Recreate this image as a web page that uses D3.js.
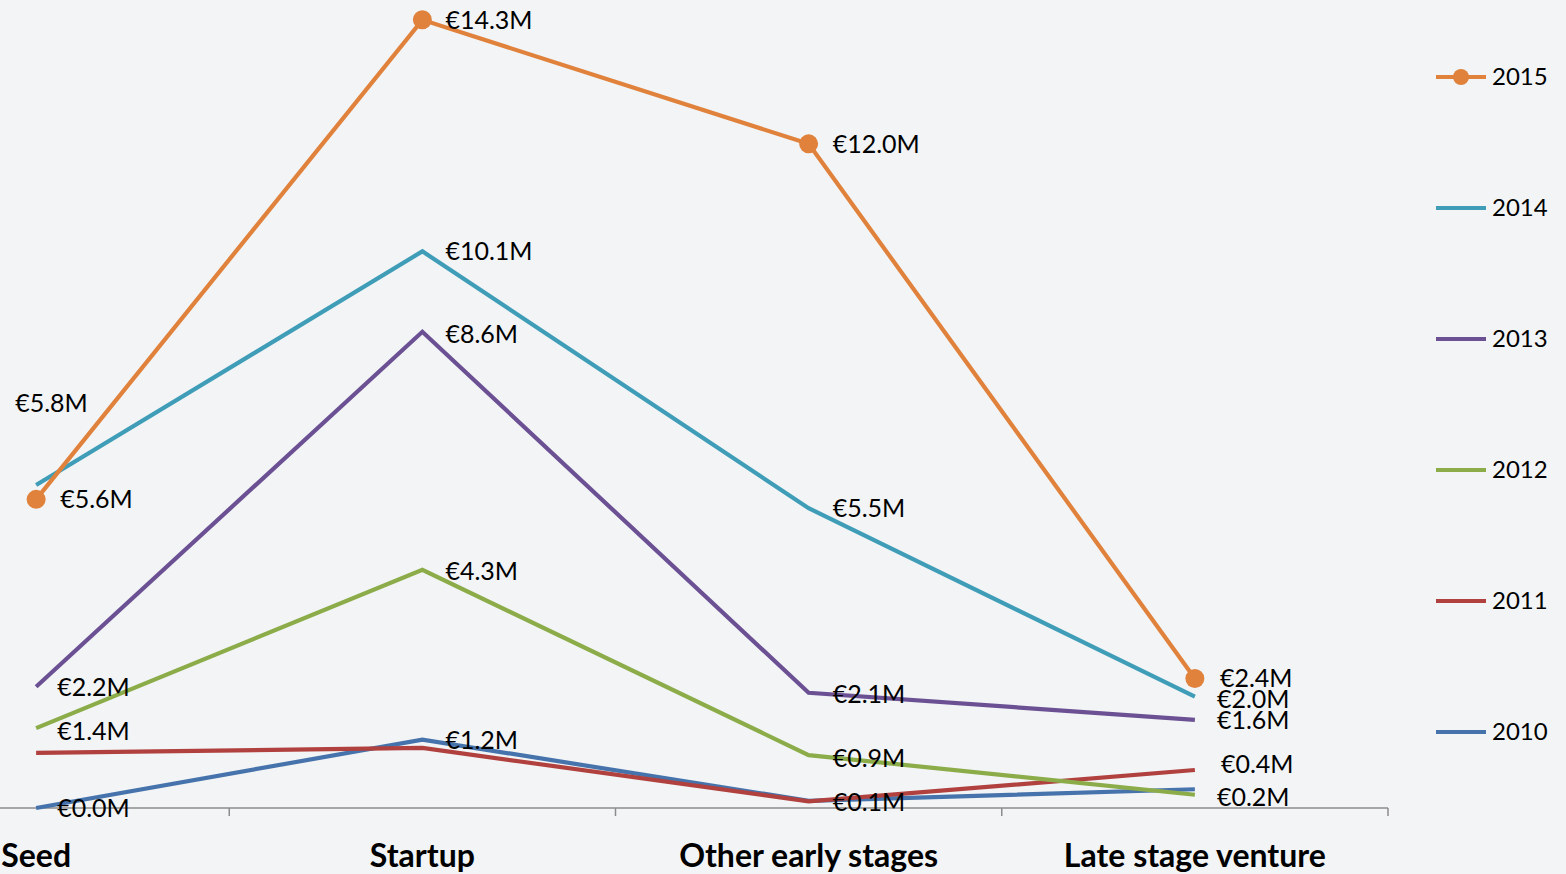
<!DOCTYPE html>
<html><head><meta charset="utf-8">
<script src="https://cdn.jsdelivr.net/npm/d3@7"></script>
<style>
html,body{margin:0;padding:0;background:#f2f4f6;}
svg{display:block;}
text{font-family:Lato,"Open Sans",sans-serif;fill:#000;}
</style></head>
<body>
<svg id="chart" width="1566" height="874"></svg>
<script>
const categories = ["Seed","Startup","Other early stages","Late stage venture"];
const years = ["2015","2014","2013","2012","2011","2010"];
const colors = ["#e0823c","#3f9db8","#6b5193","#8bac48","#b0413e","#4673ab"];
const v2015 = [5.6, 14.3, 12.05, 2.35];
const v2014 = [5.86, 10.1, 5.44, 2.02];
const v2013 = [2.2, 8.64, 2.09, 1.6];
const v2012 = [1.45, 4.32, 0.96, 0.24];
const v2011 = [1.0, 1.09, 0.12, 0.69];
const v2010 = [0.0, 1.24, 0.13, 0.34];
const l2015 = ["€5.6M","€14.3M","€12.0M","€2.4M"];
const l2014 = ["€5.8M","€10.1M","€5.5M","€2.0M"];
const l2013 = ["€2.2M","€8.6M","€2.1M","€1.6M"];
const l2012 = ["€1.4M","€4.3M","€0.9M","€0.2M"];
const l2011 = [null,null,null,"€0.4M"];
const l2010 = ["€0.0M","€1.2M","€0.1M",null];
const values = [v2015,v2014,v2013,v2012,v2011,v2010];
const labels = [l2015,l2014,l2013,l2012,l2011,l2010];
const markers = [true,false,false,false,false,false];
// label offsets (dx, dy) relative to each point
const labelOffsets = [
  [[24,0],[23,0],[24,0],[25,0]],
  [[-21,-82],[23,0],[24,0],[22,3]],
  [[21,1],[23,2],[24,1],[22,0]],
  [[21,3],[23,1],[24,3],[22,2]],
  [[0,0],[0,0],[0,0],[26,-6]],
  [[21,0],[23,1],[24,1],[0,0]]
];

const svg = d3.select("#chart");
const x = d3.scaleBand().domain(categories).range([-157, 1388]);
const y = d3.scaleLinear().domain([0, 14.66]).range([808, 0]);
const cx = c => x(c) + x.bandwidth()/2;

// axis
const axis = svg.append("g").attr("transform","translate(0,808)")
  .call(d3.axisBottom(x).tickSize(0).tickFormat(""));
axis.select(".domain").remove();
axis.append("line").attr("x1",0).attr("x2",1388).attr("stroke","#8c8c8c").attr("stroke-width",1.5);
const bounds = categories.map(c => x(c) + x.bandwidth());
axis.selectAll(".tk").data(bounds).enter().append("line")
  .attr("x1",d=>d).attr("x2",d=>d).attr("y1",0).attr("y2",8)
  .attr("stroke","#8c8c8c").attr("stroke-width",1.5);
svg.selectAll(".cat").data(categories).enter().append("text")
  .attr("x",d=>cx(d)).attr("y",867).attr("text-anchor","middle")
  .style("font-size","32px").style("font-weight","bold").text(d=>d);

const line = d3.line().x((d,i)=>cx(categories[i])).y(d=>y(d));
for (let s = years.length-1; s >= 0; s--) {
  const g = svg.append("g");
  g.append("path").datum(values[s]).attr("d",line).attr("fill","none")
    .attr("stroke",colors[s]).attr("stroke-width",4.2).attr("stroke-linejoin","miter");
  if (markers[s]) {
    g.selectAll("circle").data(values[s]).enter().append("circle")
      .attr("cx",(d,i)=>cx(categories[i])).attr("cy",d=>y(d)).attr("r",9.5).attr("fill",colors[s]);
  }
}
for (let s = years.length-1; s >= 0; s--) {
  labels[s].forEach((t,i)=>{
    if (!t) return;
    svg.append("text").attr("x",cx(categories[i])+labelOffsets[s][i][0])
      .attr("y",y(values[s][i])+labelOffsets[s][i][1]).attr("dy","0.35em")
      .style("font-size","25px").text(t);
  });
}

// legend
const lg = svg.selectAll(".lg").data(years).enter().append("g")
  .attr("transform",(d,i)=>`translate(1436,${77+i*131})`);
lg.append("line").attr("x1",0).attr("x2",50).attr("stroke",(d,i)=>colors[i]).attr("stroke-width",4);
lg.filter((d,i)=>markers[i]).append("circle").attr("cx",25).attr("r",8).attr("fill",colors[0]);
lg.append("text").attr("x",56).attr("dy","0.35em").style("font-size","24px").text(d=>d);
</script>
</body></html>
